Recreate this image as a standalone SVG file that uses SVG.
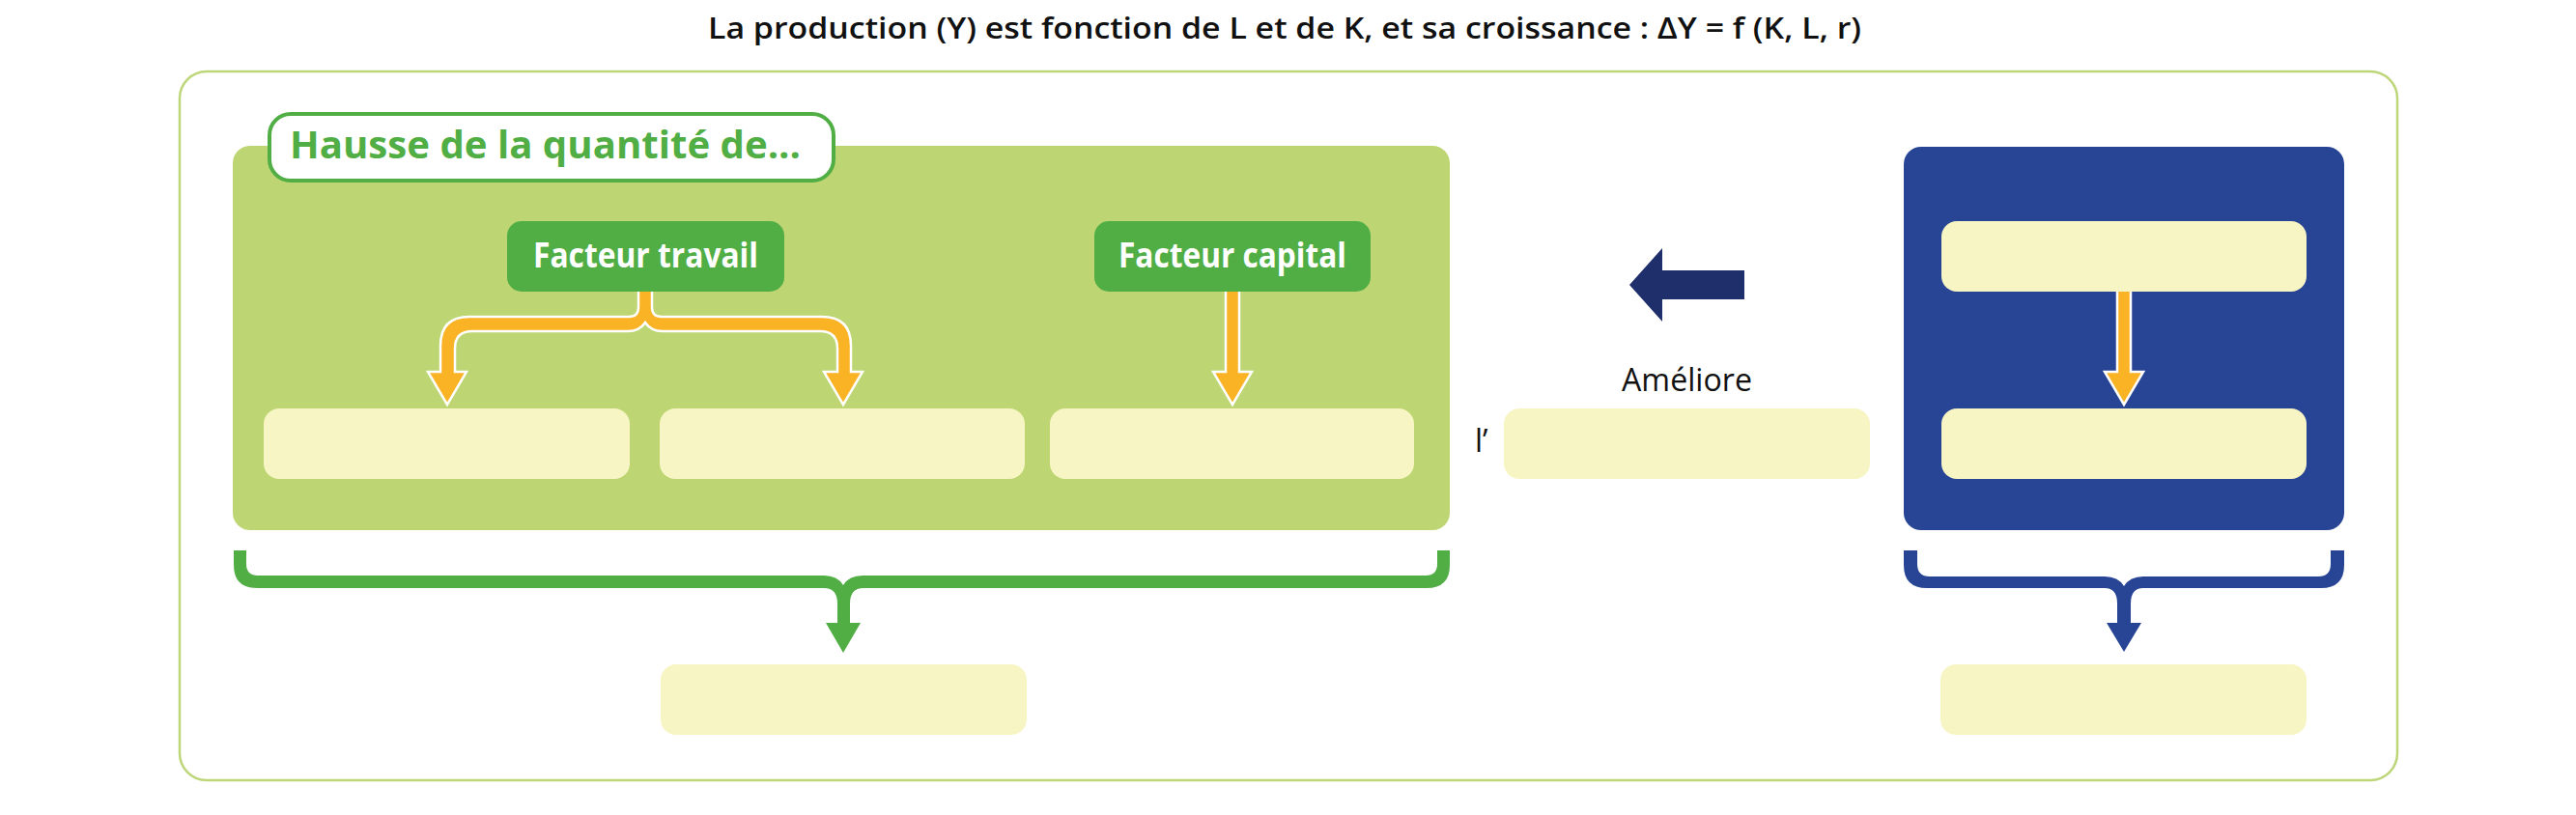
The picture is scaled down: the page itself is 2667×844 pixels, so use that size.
<svg xmlns="http://www.w3.org/2000/svg" width="2667" height="844" viewBox="0 0 2667 844">
<style>
.t{font-family:"Open Sans","Liberation Sans",sans-serif}
.ybox{fill:#f8f5c4}
.fac{fill:#50ae45}
.fact{font-family:"Open Sans","Liberation Sans",sans-serif;font-weight:700;font-size:35px;fill:#ffffff}
.org{fill:#f9b324;stroke:#ffffff;stroke-width:2.5;stroke-linejoin:miter}
</style>
<rect width="2667" height="844" fill="#ffffff"/>
<text class="t" x="733" y="40" font-size="30" font-weight="600" fill="#111111" textLength="1194" lengthAdjust="spacingAndGlyphs">La production (Y) est fonction de L et de K, et sa croissance : ΔY = f (K, L, r)</text>
<rect id="frame" x="186" y="74" width="2296" height="734" rx="28" fill="none" stroke="#bdd67a" stroke-width="2.5"/>
<g id="panel-quantite">
<rect x="241" y="151" width="1260" height="398" rx="18" fill="#bdd572"/>
</g>
<g id="panel-progres">
<rect x="1971" y="152" width="456" height="397" rx="18" fill="#284595"/>
</g>
<g id="connectors">
<path class="org" d="M661 300 L661 318 Q661 328 651 328 L486 328 Q456 328 456 358 L456 385 L443 385 L463 419 L483 385 L471 385 L471 361 Q471 343 489 343 L650 343 Q662 343 668 334 Q674 343 686 343 L849 343 Q867 343 867 361 L867 385 L853 385 L873 419 L893 385 L881 385 L881 358 Q881 328 851 328 L685 328 Q675 328 675 318 L675 300 Z"/>
<path class="org" d="M1269 300 L1269 385 L1256 385 L1276 419 L1296 385 L1283 385 L1283 300 Z"/>
<path class="org" d="M2192 300 L2192 385 L2179 385 L2199 419 L2219 385 L2206 385 L2206 300 Z"/>
<path fill="#1f2f6b" d="M1687 295 L1721 257 L1721 280 L1806 280 L1806 310 L1721 310 L1721 333 Z"/>
<path fill="#50ae45" d="M242 570 L242 585 Q242 609 266 609 L853 609 Q867 609 867 625 L867 645 L855 645 L873 676 L891 645 L880 645 L880 625 Q880 609 894 609 L1477 609 Q1501 609 1501 585 L1501 570 L1488 570 L1488 584 Q1488 596 1476 596 L893 596 Q879 596 873 606 Q867 596 853 596 L267 596 Q255 596 255 584 L255 570 Z"/>
<path fill="#284595" d="M1971 570 L1971 585 Q1971 609 1995 609 L2179 609 Q2192 609 2192 625 L2192 645 L2181 645 L2199 675 L2217 645 L2206 645 L2206 625 Q2206 609 2219 609 L2403 609 Q2427 609 2427 585 L2427 570 L2413 570 L2413 584 Q2413 597 2400 597 L2219 597 Q2205 597 2199 607 Q2193 597 2179 597 L1998 597 Q1985 597 1985 584 L1985 570 Z"/>
</g>
<g id="label-hausse">
<rect x="279" y="118" width="584" height="69" rx="22" fill="#ffffff" stroke="#50ae45" stroke-width="4"/>
<text class="t" x="300" y="164" font-size="39" font-weight="700" fill="#50ae45" textLength="529" lengthAdjust="spacingAndGlyphs">Hausse de la quantité de...</text>
</g>
<g id="facteur-travail">
<rect class="fac" x="525" y="229" width="287" height="73" rx="15"/>
<text class="fact" x="552" y="277" textLength="233" lengthAdjust="spacingAndGlyphs">Facteur travail</text>
</g>
<g id="facteur-capital">
<rect class="fac" x="1133" y="229" width="286" height="73" rx="15"/>
<text class="fact" x="1158" y="277" textLength="236" lengthAdjust="spacingAndGlyphs">Facteur capital</text>
</g>
<g id="box-1"><rect class="ybox" x="273" y="423" width="379" height="73" rx="16"/></g>
<g id="box-2"><rect class="ybox" x="683" y="423" width="378" height="73" rx="16"/></g>
<g id="box-3"><rect class="ybox" x="1087" y="423" width="377" height="73" rx="16"/></g>
<g id="ameliore">
<text class="t" x="1679" y="405" font-size="32" fill="#111111" textLength="135" lengthAdjust="spacingAndGlyphs">Améliore</text>
<text class="t" x="1527" y="468" font-size="32" fill="#111111">l’</text>
<rect class="ybox" x="1557" y="423" width="379" height="73" rx="16"/>
</g>
<g id="box-progres-1"><rect class="ybox" x="2010" y="229" width="378" height="73" rx="16"/></g>
<g id="box-progres-2"><rect class="ybox" x="2010" y="423" width="378" height="73" rx="16"/></g>
<g id="box-result-quantite"><rect class="ybox" x="684" y="688" width="379" height="73" rx="16"/></g>
<g id="box-result-progres"><rect class="ybox" x="2009" y="688" width="379" height="73" rx="16"/></g>
</svg>
